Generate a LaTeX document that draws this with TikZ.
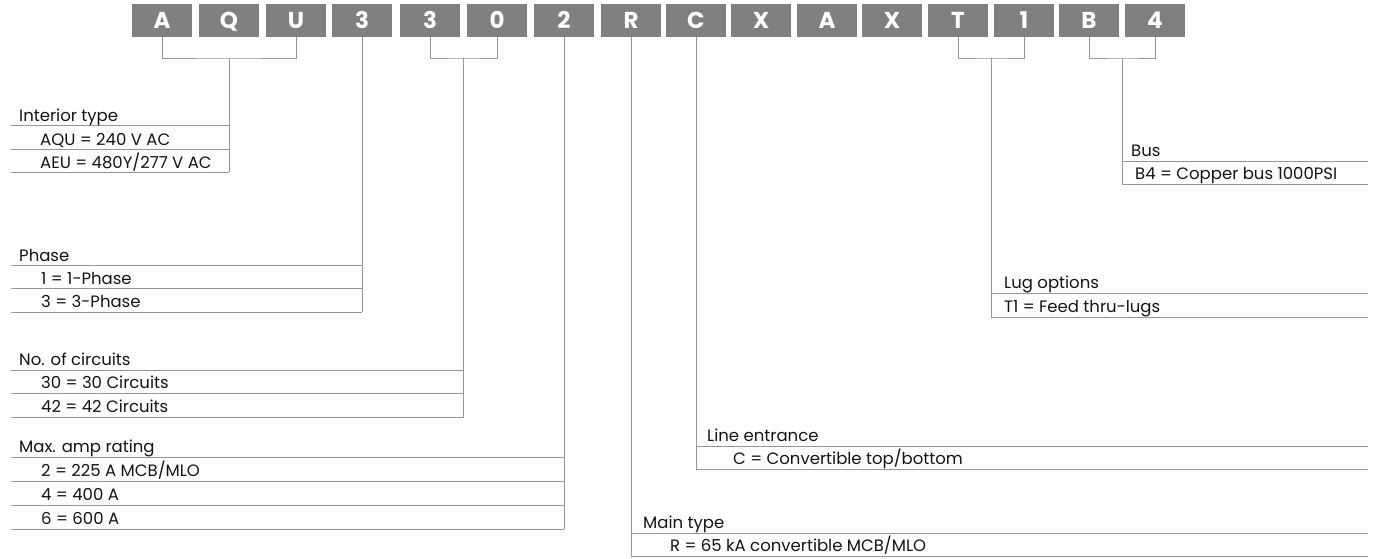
\documentclass[tikz,border=0pt]{standalone}
\usepackage{fontspec}
\setmainfont{Poppins}
\definecolor{codegray}{RGB}{128,128,131}
\definecolor{linegray}{RGB}{150,150,150}
\definecolor{textc}{RGB}{20,20,20}
\begin{document}
\begin{tikzpicture}[x=1pt,y=-1pt,
  codebox/.style={fill=codegray, text=white, font=\bfseries\fontsize{23}{23}\selectfont,
    minimum width=60pt, minimum height=33pt, inner sep=0pt, text height=16pt, text depth=0pt},
  lead/.style={draw=linegray, line width=1pt},
  rowrule/.style={draw=linegray, line width=1pt},
  lbl/.style={anchor=base west, inner sep=0pt, font=\fontsize{16.5}{16.5}\selectfont, text=textc}]
\useasboundingbox (0,0) rectangle (1382,558);
% code boxes
\node[codebox] (b1)  at (162,20.5) {A};
\node[codebox] (b2)  at (229,20.5) {Q};
\node[codebox] (b3)  at (296,20.5) {U};
\node[codebox] (b4)  at (362,20.5) {3};
\node[codebox] (b5)  at (430,20.5) {3};
\node[codebox] (b6)  at (497,20.5) {0};
\node[codebox] (b7)  at (564,20.5) {2};
\node[codebox] (b8)  at (631,20.5) {R};
\node[codebox] (b9)  at (696,20.5) {C};
\node[codebox] (b10) at (761,20.5) {X};
\node[codebox] (b11) at (827,20.5) {A};
\node[codebox] (b12) at (892,20.5) {X};
\node[codebox] (b13) at (958,20.5) {T};
\node[codebox] (b14) at (1024,20.5) {1};
\node[codebox] (b15) at (1089,20.5) {B};
\node[codebox] (b16) at (1155,20.5) {4};
% junctions and ends
\coordinate (jInt) at (229,58);
\coordinate (jCir) at (463.5,58);
\coordinate (jLug) at (991,58);
\coordinate (jBus) at (1122,58);
\coordinate (eInt) at (229,172);
\coordinate (ePha) at (362,312);
\coordinate (eCir) at (463.5,417);
\coordinate (eAmp) at (564,529);
\coordinate (eMain) at (631,556);
\coordinate (eLine) at (696,469);
\coordinate (eLug) at (991,317);
\coordinate (eBus) at (1122,184);
% leaders
\draw[lead] (b1.south) |- (jInt) -| (b3.south);
\draw[lead] (jInt) -- (eInt);
\draw[lead] (b4.south) -- (ePha);
\draw[lead] (b5.south) |- (jCir) -| (b6.south);
\draw[lead] (jCir) -- (eCir);
\draw[lead] (b7.south) -- (eAmp);
\draw[lead] (b8.south) -- (eMain);
\draw[lead] (b9.south) -- (eLine);
\draw[lead] (b13.south) |- (jLug) -| (b14.south);
\draw[lead] (jLug) -- (eLug);
\draw[lead] (b15.south) |- (jBus) -| (b16.south);
\draw[lead] (jBus) -- (eBus);
% Interior type
\draw[rowrule] (11,125) -- (229,125) (11,149) -- (229,149) (11,172) -- (eInt);
\node[lbl] (tInt) at (19,121) {Interior type};
\node[lbl] (tInt1) at (40,145) {AQU = 240 V AC};
\node[lbl] (tInt2) at (40,168) {AEU = 480Y/277 V AC};
% Phase
\draw[rowrule] (11,265) -- (362,265) (11,288) -- (362,288) (11,312) -- (ePha);
\node[lbl] (tPha) at (19,261) {Phase};
\node[lbl] (tPha1) at (41,284) {1 = 1-Phase};
\node[lbl] (tPha2) at (41,307.5) {3 = 3-Phase};
% No. of circuits
\draw[rowrule] (11,370) -- (463.5,370) (11,393) -- (463.5,393) (11,417) -- (eCir);
\node[lbl] (tCir) at (19,365.5) {No. of circuits};
\node[lbl] (tCir1) at (41,388.5) {30 = 30 Circuits};
\node[lbl] (tCir2) at (41,412.5) {42 = 42 Circuits};
% Max amp rating
\draw[rowrule] (11,457) -- (564,457) (11,481) -- (564,481) (11,505) -- (564,505) (11,529) -- (eAmp);
\node[lbl] (tAmp) at (19,452.5) {Max. amp rating};
\node[lbl] (tAmp1) at (41,476.5) {2 = 225 A MCB/MLO};
\node[lbl] (tAmp2) at (41,500.5) {4 = 400 A};
\node[lbl] (tAmp3) at (41,524.5) {6 = 600 A};
% Main type
\draw[rowrule] (631,533) -- (1368,533) (eMain) -- (1368,556);
\node[lbl] (tMain) at (643,528.5) {Main type};
\node[lbl] (tMain1) at (670,551.5) {R = 65 kA convertible MCB/MLO};
% Line entrance
\draw[rowrule] (696,446) -- (1368,446) (eLine) -- (1368,469);
\node[lbl] (tLine) at (707,441.5) {Line entrance};
\node[lbl] (tLine1) at (733,464.5) {C = Convertible top/bottom};
% Lug options
\draw[rowrule] (991,293) -- (1368,293) (eLug) -- (1368,317);
\node[lbl] (tLug) at (1004,288.5) {Lug options};
\node[lbl] (tLug1) at (1004,312.5) {T1 = Feed thru-lugs};
% Bus
\draw[rowrule] (1122,161) -- (1368,161) (eBus) -- (1368,184);
\node[lbl] (tBus) at (1131,156.5) {Bus};
\node[lbl] (tBus1) at (1135,179.5) {B4 = Copper bus 1000PSI};
\end{tikzpicture}
\end{document}
